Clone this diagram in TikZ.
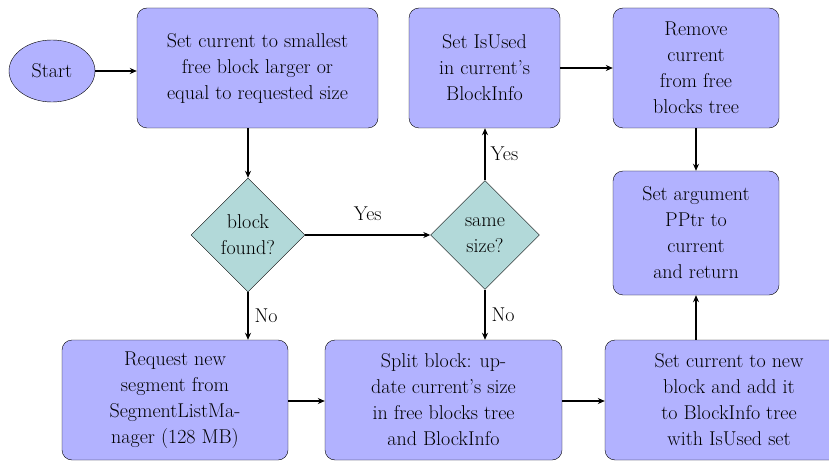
\documentclass[tikz,border=0pt]{standalone}
\usepackage{fontspec}
\usetikzlibrary{shapes.geometric,arrows.meta}
\begin{document}
\begin{tikzpicture}[x=1pt,y=1pt,
  every node/.style={font=\fontsize{20}{26}\selectfont},
  procbox/.style={draw=black, fill=blue!30, rounded corners=10pt, align=center, inner sep=0pt},
  decbox/.style={draw=black, fill=teal!30, diamond, aspect=1, align=center, inner sep=0pt},
  startnode/.style={draw=black, fill=blue!30, ellipse, inner sep=0pt, minimum width=86pt, minimum height=62pt},
  conn/.style={line width=1.2pt, -{Stealth[length=7pt,width=6pt]}},
  lbl/.style={inner sep=0pt}
]
\useasboundingbox (0,0) rectangle (829,461);
\clip (0,0) rectangle (829,461);
\node[startnode] (start) at (52,390) {Start};
\node[procbox, minimum width=241pt, minimum height=120pt] (b1) at (257.5,393) {Set current to smallest\\free block larger or\\equal to requested size};
\node[procbox, minimum width=151pt, minimum height=120pt] (b2) at (484.5,393) {Set IsUsed\\in current's\\BlockInfo};
\node[procbox, minimum width=166pt, minimum height=120pt] (b3) at (696,393) {Remove\\current\\from free\\blocks tree};
\node[procbox, minimum width=166pt, minimum height=124pt] (b4) at (696,228) {Set argument\\PPtr to\\current\\and return};
\node[decbox, minimum width=114pt, minimum height=114pt] (d1) at (248,226) {block\\found?};
\node[decbox, minimum width=109pt, minimum height=109pt] (d2) at (485,226) {same\\size?};
\node[procbox, minimum width=226pt, minimum height=120pt] (r1) at (175,61) {Request new\\segment from\\SegmentListMa-\\nager (128 MB)};
\node[procbox, minimum width=237pt, minimum height=120pt] (r2) at (443.5,61) {Split block: up-\\date current's size\\in free blocks tree\\and BlockInfo};
\node[procbox, minimum width=248pt, minimum height=120pt] (r3) at (729,61) {Set current to new\\block and add it\\to BlockInfo tree\\with IsUsed set};

\draw[conn] (start) -- (b1.west |- start);
\draw[conn] (b1.south -| d1.north) -- (d1.north);
\draw[conn] (d1.east) -- node[lbl, above=14pt] {Yes} (d2.west);
\draw[conn] (d2.north) -- node[lbl, right=5pt] {Yes} (b2.south -| d2.north);
\draw[conn] (b2.east |- 0,393) -- (b3.west |- 0,393);
\draw[conn] (b3.south) -- (b4.north);
\draw[conn] (d1.south) -- node[lbl, right=6pt] {No} (r1.north -| d1.south);
\draw[conn] (d2.south) -- node[lbl, right=6pt] {No} (r2.north -| d2.south);
\draw[conn] (r1.east |- 0,60) -- (r2.west |- 0,60);
\draw[conn] (r2.east |- 0,60) -- (r3.west |- 0,60);
\draw[conn] (r3.north -| b4.south) -- (b4.south);
\end{tikzpicture}
\end{document}
